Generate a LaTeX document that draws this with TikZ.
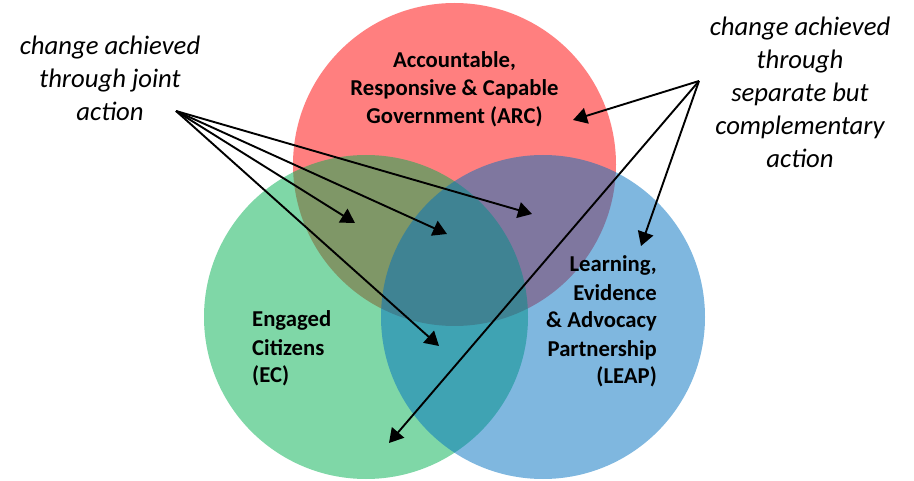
\documentclass[tikz,border=0pt]{standalone}
\usepackage{fontspec}
\setmainfont{Carlito}
\usetikzlibrary{arrows.meta}
\definecolor{arcred}{RGB}{255,0,0}
\definecolor{ecgreen}{RGB}{0,176,80}
\definecolor{leapblue}{RGB}{0,112,192}
\tikzset{
  circ/.style={fill opacity=0.5, draw=none},
  biglabel/.style={font=\fontsize{22.7}{28}\selectfont\bfseries, inner sep=0pt},
  sidelabel/.style={font=\fontsize{26.7}{33}\selectfont\itshape, inner sep=0pt, align=center, anchor=base},
  pointer/.style={line width=1.9pt, -{Triangle[length=14pt,width=16pt]}}
}
\begin{document}
\begin{tikzpicture}[x=1pt,y=-1pt]
\useasboundingbox (0,0) rectangle (914,481);
% circles
\fill[circ, arcred] (454.5,164.5) circle (161.5);
\fill[circ, ecgreen] (366,317) circle (162);
\fill[circ, leapblue] (543,317) circle (162);
% circle labels (anchor = baseline of last line)
\node[biglabel, align=center, anchor=base] (arc) at (454.5,124) {Accountable,\\Responsive \& Capable\\Government (ARC)};
\node[biglabel, align=left, anchor=base west] (ec) at (252,383) {Engaged\\Citizens\\(EC)};
\node[biglabel, align=right, anchor=base east] (leap) at (657,384) {Learning,\\Evidence\\\& Advocacy\\Partnership\\(LEAP)};
% side labels
\node[sidelabel] (joint) at (110,121) {change achieved\\through joint\\action};
\node[sidelabel] (sep) at (800,168) {change achieved\\through\\separate but\\complementary\\action};
% arrow sources and tips
\coordinate (js) at (176,111);
\coordinate (ss) at (699,81);
\coordinate (t1) at (355,223);
\coordinate (t2) at (447,234);
\coordinate (t3) at (532,214);
\coordinate (t4) at (439,346);
\coordinate (ta) at (573,120);
\coordinate (tb) at (641,246);
\coordinate (tc) at (389,443);
\draw[pointer] (js) -- (t1);
\draw[pointer] (js) -- (t2);
\draw[pointer] (js) -- (t3);
\draw[pointer] (js) -- (t4);
\draw[pointer] (ss) -- (ta);
\draw[pointer] (ss) -- (tb);
\draw[pointer] (ss) -- (tc);
\end{tikzpicture}
\end{document}
